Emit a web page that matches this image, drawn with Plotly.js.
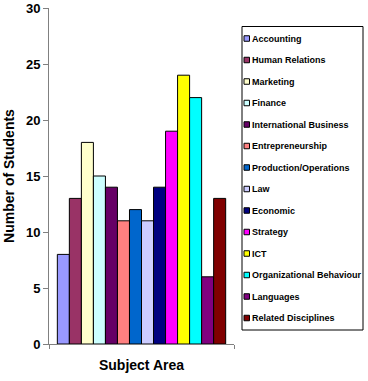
<!DOCTYPE html>
<html>
<head>
<meta charset="utf-8">
<script src="https://cdn.plot.ly/plotly-3.0.1.min.js"></script>
<style>
  html, body { margin: 0; padding: 0; background: #fff; }
  #chart { width: 368px; height: 381px; }
</style>
</head>
<body>
<div id="chart"></div>
<script>
// Students per subject area
const subjects = [
  'Accounting', 'Human Relations', 'Marketing', 'Finance',
  'International Business', 'Entrepreneurship', 'Production/Operations',
  'Law', 'Economic', 'Strategy', 'ICT', 'Organizational Behaviour',
  'Languages', 'Related Disciplines'
];
const students = [8, 13, 18, 15, 14, 11, 12, 11, 14, 19, 24, 22, 6, 13];
const yTicks = [0, 5, 10, 15, 20, 25, 30];

// Fill colours, one per subject
const palette = [
  '#9999FF', '#993366', '#FFFFCC', '#CCFFFF', '#660066', '#FF8080', '#0066CC',
  '#CCCCFF', '#000080', '#FF00FF', '#FFFF00', '#00FFFF', '#800080', '#800000'
];

const FONT = '"Liberation Sans", Arial, sans-serif';

// Plot area geometry (pixels)
const W = 368, H = 381;
const M = { l: 49, r: 134, t: 8, b: 37 };
const plotW = W - M.l - M.r;
const plotH = H - M.t - M.b;
const px2x = px => (px - M.l) / plotW;
const px2y = py => (H - M.b - py) / plotH;

const traces = subjects.map((name, i) => ({
  type: 'bar',
  name: name,
  x: ['Subject Area'],
  y: [students[i]],
  marker: { color: palette[i], line: { color: '#000000', width: 1 } },
  hovertemplate: name + ': %{y}<extra></extra>'
}));

// Key box drawn to the right of the plot
const shapes = [{
  type: 'rect', xref: 'paper', yref: 'paper',
  x0: px2x(242), x1: px2x(363), y0: px2y(330), y1: px2y(26.5),
  line: { color: '#000000', width: 1 }, fillcolor: 'rgba(0,0,0,0)'
}];
const annotations = [];
subjects.forEach((name, i) => {
  const yc = 38.5 + 21.5 * i;
  shapes.push({
    type: 'rect', xref: 'paper', yref: 'paper',
    x0: px2x(244), x1: px2x(249.5), y0: px2y(yc + 2.75), y1: px2y(yc - 2.75),
    fillcolor: palette[i], line: { color: '#000000', width: 1 }
  });
  annotations.push({
    xref: 'paper', yref: 'paper', x: px2x(249.5), y: px2y(yc),
    xanchor: 'left', yanchor: 'middle', showarrow: false,
    text: name,
    font: { family: FONT, size: 9, weight: 'bold', color: '#000000' }
  });
});

const layout = {
  width: W, height: H,
  margin: M,
  paper_bgcolor: '#ffffff', plot_bgcolor: '#ffffff',
  showlegend: false,
  barmode: 'group',
  bargap: 0.09,
  bargroupgap: 0,
  font: { family: FONT, color: '#000000' },
  xaxis: {
    type: 'category',
    showticklabels: false,
    tickson: 'boundaries',
    ticks: 'outside', ticklen: 4, tickcolor: '#808080',
    showline: true, linecolor: '#808080', linewidth: 1,
    showgrid: false, zeroline: false,
    automargin: false,
    title: { text: 'Subject Area', standoff: 16,
             font: { family: FONT, size: 14, weight: 'bold', color: '#000000' } }
  },
  yaxis: {
    range: [0, 30],
    tickmode: 'array', tickvals: yTicks,
    ticks: 'outside', ticklen: 5, tickcolor: '#808080',
    ticklabeloverflow: 'allow',
    showline: true, linecolor: '#808080', linewidth: 1,
    showgrid: false, zeroline: false,
    automargin: false,
    tickfont: { family: FONT, size: 13, weight: 'bold', color: '#000000' },
    title: { text: 'Number of Students', standoff: 8,
             font: { family: FONT, size: 14, weight: 'bold', color: '#000000' } }
  },
  shapes: shapes,
  annotations: annotations
};

Plotly.newPlot('chart', traces, layout, { displayModeBar: false, staticPlot: true });
</script>
</body>
</html>
